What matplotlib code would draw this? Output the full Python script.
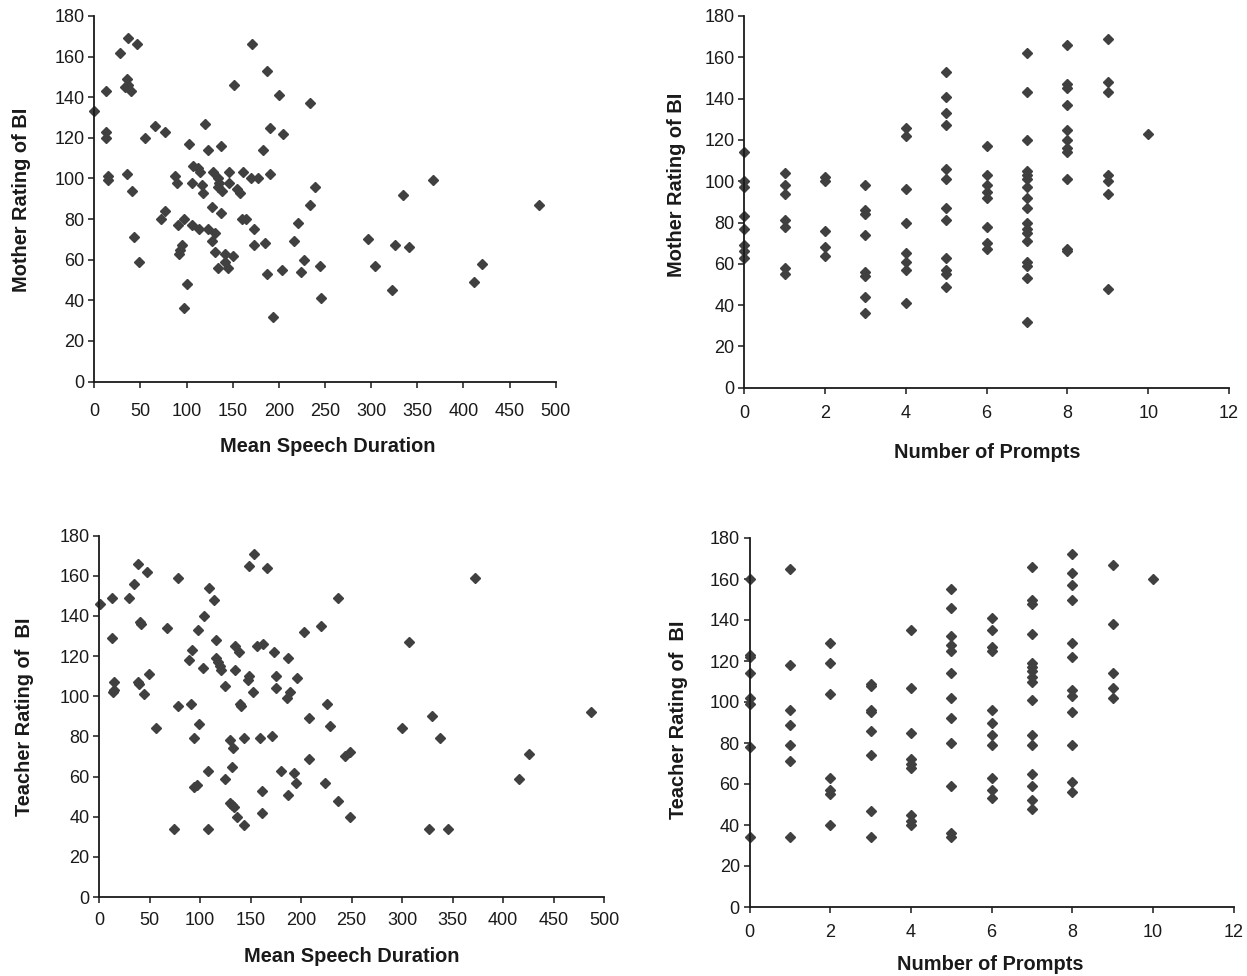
import matplotlib
matplotlib.use("Agg")
import matplotlib.pyplot as plt

plt.rcParams["font.family"] = ["Liberation Sans", "DejaVu Sans"]

# top-left: mean speech duration vs mother rating
msd_mother_x = [0, 37, 46, 28, 13, 36, 33, 37, 40, 13, 13, 15, 15, 36, 41, 55, 66, 77,
                88, 90, 103, 107, 112, 115, 106, 117, 118, 120, 123, 129, 134, 135, 134,
                138, 137, 146, 146, 152, 155, 158, 161, 170, 178, 171, 187, 200, 191, 205,
                183, 191, 128, 137, 77, 72, 97, 91, 106, 114, 123, 131, 160, 164, 173, 173,
                185, 43, 48, 95, 93, 92, 128, 131, 142, 150, 142, 134, 145, 101, 97, 187,
                204, 194, 234, 239, 234, 221, 217, 227, 224, 245, 246, 297, 304, 323, 326,
                341, 335, 367, 420, 411, 482]
msd_mother_y = [133, 169, 166, 162, 143, 149, 145, 146, 143, 123, 120, 101, 99, 102, 94, 120,
                126, 123, 101, 98, 117, 106, 105, 103, 98, 97, 93, 127, 114, 103, 100, 98, 96,
                94, 116, 103, 98, 146, 95, 93, 103, 100, 100, 166, 153, 141, 125, 122, 114,
                102, 86, 83, 84, 80, 80, 77, 77, 75, 75, 73, 80, 80, 75, 67, 68, 71, 59, 67,
                65, 63, 69, 64, 63, 62, 59, 56, 56, 48, 36, 53, 55, 32, 137, 96, 87, 78, 69,
                60, 54, 57, 41, 70, 57, 45, 67, 66, 92, 99, 58, 49, 87]

# top-right: number of prompts vs mother rating
prompts_mother = {
    0: [114, 100, 97, 83, 77, 69, 66, 63],
    1: [104, 98, 94, 81, 78, 58, 55],
    2: [102, 100, 76, 68, 64],
    3: [98, 86, 84, 74, 56, 54, 44, 36],
    4: [126, 122, 96, 80, 65, 61, 57, 41],
    5: [153, 141, 133, 127, 106, 101, 87, 81, 63, 57, 55, 49],
    6: [117, 103, 98, 95, 92, 78, 70, 67],
    7: [162, 143, 120, 105, 103, 101, 97, 92, 87, 80, 77, 75, 71, 61, 59, 53, 32],
    8: [166, 147, 145, 137, 125, 120, 116, 114, 101, 67, 66],
    9: [169, 148, 143, 103, 100, 94, 48],
    10: [123],
}

# bottom-left: mean speech duration vs teacher rating
msd_teacher_x = [1, 13, 29, 34, 38, 47, 13, 40, 41, 67, 78, 15, 15, 14, 38, 39, 49, 44, 109,
                 114, 104, 98, 116, 92, 89, 103, 116, 118, 120, 121, 134, 138, 134, 148, 147,
                 125, 152, 148, 153, 166, 156, 162, 173, 187, 175, 175, 186, 78, 91, 139, 140,
                 56, 99, 94, 129, 132, 143, 159, 171, 108, 131, 125, 94, 97, 161, 180, 187, 129,
                 131, 133, 136, 143, 161, 74, 108, 372, 236, 220, 203, 196, 189, 226, 208, 229,
                 307, 330, 300, 338, 426, 416, 248, 243, 208, 193, 195, 224, 236, 248, 327, 345,
                 487]
msd_teacher_y = [146, 149, 149, 156, 166, 162, 129, 137, 136, 134, 159, 107, 103, 102, 107, 106,
                 111, 101, 154, 148, 140, 133, 128, 123, 118, 114, 119, 117, 115, 113, 125, 122,
                 113, 110, 108, 105, 102, 165, 171, 164, 125, 126, 122, 119, 110, 104, 99, 95, 96,
                 96, 95, 84, 86, 79, 78, 74, 79, 79, 80, 63, 65, 59, 55, 56, 53, 63, 51, 47, 46,
                 45, 40, 36, 42, 34, 34, 159, 149, 135, 132, 109, 102, 96, 89, 85, 127, 90, 84,
                 79, 71, 59, 72, 70, 69, 62, 57, 57, 48, 40, 34, 34, 92]

# bottom-right: number of prompts vs teacher rating
prompts_teacher = {
    0: [160, 123, 122, 114, 102, 99, 78, 34],
    1: [165, 118, 96, 89, 79, 71, 34],
    2: [129, 119, 104, 63, 57, 55, 40],
    3: [109, 108, 96, 95, 86, 74, 47, 34],
    4: [135, 107, 85, 72, 70, 68, 45, 42, 40],
    5: [155, 146, 132, 128, 125, 114, 102, 92, 80, 59, 36, 34],
    6: [141, 135, 127, 125, 96, 90, 84, 79, 63, 57, 53],
    7: [166, 150, 148, 133, 119, 117, 115, 112, 110, 101, 84, 79, 65, 59, 52, 48],
    8: [172, 163, 157, 150, 129, 122, 106, 103, 95, 79, 61, 56],
    9: [167, 138, 114, 107, 102],
    10: [160],
}

MARK = "#404040"
TXT = "#1a1a1a"
W, H = 1247, 976


def flat(d):
    xs, ys = [], []
    for k, vals in d.items():
        xs += [k] * len(vals)
        ys += vals
    return xs, ys


def px_axes(fig, l, r, t, b):
    return fig.add_axes([l / W, 1 - b / H, (r - l) / W, (b - t) / H])


def style(ax, xmax, xstep, xlabel, ylabel, xl_pos, yl_pos, xpad):
    ax.set_xlim(0, xmax)
    ax.set_ylim(0, 180)
    ax.set_xticks(range(0, xmax + 1, xstep))
    ax.set_yticks(range(0, 181, 20))
    for s in ["top", "right"]:
        ax.spines[s].set_visible(False)
    for s in ["left", "bottom"]:
        ax.spines[s].set_linewidth(1.3)
        ax.spines[s].set_color(TXT)
    ax.tick_params(direction="out", length=4, width=1.1, labelsize=13,
                   colors=TXT, pad=3)
    ax.tick_params(axis="x", pad=xpad)
    ax.set_xlabel(xlabel, fontsize=14.4, fontweight="bold", color=TXT, va="center")
    ax.set_ylabel(ylabel, fontsize=14.4, fontweight="bold", color=TXT, va="center")
    ax.xaxis.set_label_coords(xl_pos[0] / W, 1 - xl_pos[1] / H, transform=fig.transFigure)
    ax.yaxis.set_label_coords(yl_pos[0] / W, 1 - yl_pos[1] / H, transform=fig.transFigure)
    ax.patch.set_alpha(0)


fig = plt.figure(figsize=(W / 100, H / 100), dpi=100)

ax1 = px_axes(fig, 94.2, 555.7, 16, 381.5)
ax1.plot(msd_mother_x, msd_mother_y, "D", color=MARK, markersize=5, clip_on=False)
style(ax1, 500, 50, "Mean Speech Duration", "Mother Rating of BI",
      (328, 447), (22, 200), 11.5)

ax2 = px_axes(fig, 744.3, 1229, 16, 387.7)
x2, y2 = flat(prompts_mother)
ax2.plot(x2, y2, "D", color=MARK, markersize=5, clip_on=False)
style(ax2, 12, 2, "Number of Prompts", "Mother Rating of BI",
      (987, 452), (676, 185), 8.5)

ax3 = px_axes(fig, 99.3, 604, 535.7, 897)
ax3.plot(msd_teacher_x, msd_teacher_y, "D", color=MARK, markersize=5, clip_on=False)
style(ax3, 500, 50, "Mean Speech Duration", "Teacher Rating of  BI",
      (352, 957), (25, 717), 6.5)

ax4 = px_axes(fig, 749.5, 1233.6, 538, 907)
x4, y4 = flat(prompts_teacher)
ax4.plot(x4, y4, "D", color=MARK, markersize=5, clip_on=False)
style(ax4, 12, 2, "Number of Prompts", "Teacher Rating of  BI",
      (990, 965), (678, 720), 8)

fig.savefig("out.png", dpi=100)
